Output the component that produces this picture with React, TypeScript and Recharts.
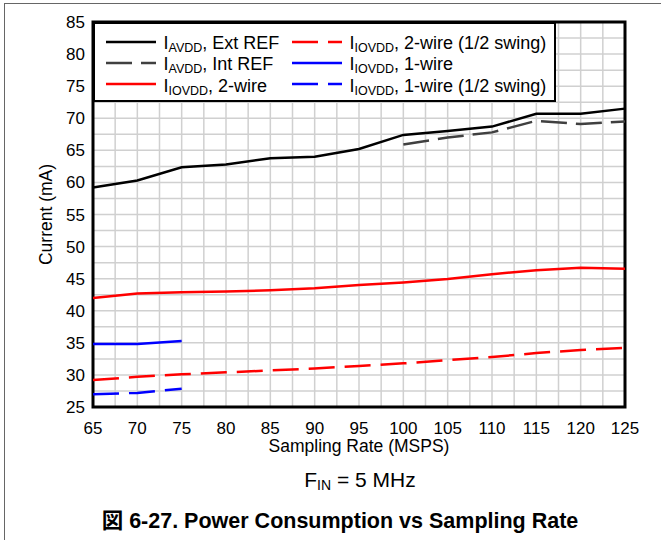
import React from "react"
import {
  LineChart,
  Line,
  XAxis,
  YAxis,
  CartesianGrid,
  Legend,
  ReferenceArea,
} from "recharts"

const font = '"Liberation Sans", Arial, sans-serif'

// sampling rate (MSPS)
const rates = [65, 70, 75, 80, 85, 90, 95, 100, 105, 110, 115, 120, 125]

// current (mA)
const avddExtRef = [59.2, 60.3, 62.35, 62.8, 63.75, 64.0, 65.2, 67.4, 68.0, 68.7, 70.7, 70.7, 71.5]
const avddIntRef = [null, null, null, null, null, null, null, 65.9, 67.0, 67.8, 69.6, 69.1, 69.5]
const iovdd2Wire = [42.0, 42.7, 42.9, 43.0, 43.2, 43.5, 44.0, 44.4, 44.95, 45.7, 46.3, 46.7, 46.55]
const iovdd2WireHalf = [29.2, 29.7, 30.1, 30.4, 30.7, 31.0, 31.4, 31.8, 32.3, 32.8, 33.4, 33.9, 34.2]
const iovdd1Wire = [34.8, 34.8, 35.3, null, null, null, null, null, null, null, null, null, null]
const iovdd1WireHalf = [27.0, 27.2, 27.85, null, null, null, null, null, null, null, null, null, null]

// grid every 2.5, labels every 5
const xGrid = [65, 67.5, 70, 72.5, 75, 77.5, 80, 82.5, 85, 87.5, 90, 92.5, 95, 97.5, 100, 102.5, 105, 107.5, 110, 112.5, 115, 117.5, 120, 122.5, 125]
const yGrid = [25, 27.5, 30, 32.5, 35, 37.5, 40, 42.5, 45, 47.5, 50, 52.5, 55, 57.5, 60, 62.5, 65, 67.5, 70, 72.5, 75, 77.5, 80, 82.5, 85]

const series = [
  { key: "avddExt", values: avddExtRef, main: "I", sub: "AVDD", rest: ", Ext REF", color: "#000000", dash: undefined },
  { key: "avddInt", values: avddIntRef, main: "I", sub: "AVDD", rest: ", Int REF", color: "#404040", dash: "26 9" },
  { key: "io2", values: iovdd2Wire, main: "I", sub: "IOVDD", rest: ", 2-wire", color: "#ff0000", dash: undefined },
  { key: "io2half", values: iovdd2WireHalf, main: "I", sub: "IOVDD", rest: ", 2-wire (1/2 swing)", color: "#ff0000", dash: "26 10" },
  { key: "io1", values: iovdd1Wire, main: "I", sub: "IOVDD", rest: ", 1-wire", color: "#0000ff", dash: undefined },
  { key: "io1half", values: iovdd1WireHalf, main: "I", sub: "IOVDD", rest: ", 1-wire (1/2 swing)", color: "#0000ff", dash: "26 10" },
]

const data = rates.map((rate, i) => {
  const row: Record<string, number | null> = { rate }
  series.forEach((s) => {
    row[s.key] = s.values[i]
  })
  return row
})

function ChartLegend() {
  return (
    <div
      style={{
        width: 463,
        height: 80,
        border: "2.5px solid #000",
        boxSizing: "border-box",
        background: "#fff",
        position: "relative",
        fontFamily: font,
        color: "#000",
      }}
    >
      {series.map((s, i) => {
        const col = i < 3 ? 0 : 1
        const row = i % 3
        const lineX = col === 0 ? 10.5 : 196.5
        const textX = col === 0 ? 68.5 : 254.5
        const lineY = 17.8 + row * 21.3
        return (
          <React.Fragment key={s.key}>
            <svg
              width={50}
              height={4}
              style={{ position: "absolute", left: lineX, top: lineY - 2 }}
            >
              <line x1={0} y1={2} x2={50} y2={2} stroke={s.color} strokeWidth={2.5} strokeDasharray={s.dash} />
            </svg>
            <div
              style={{
                position: "absolute",
                left: textX,
                top: lineY - 7.7,
                fontSize: 18,
                lineHeight: "18px",
                whiteSpace: "nowrap",
              }}
            >
              {s.main}
              <span style={{ fontSize: 12.5, position: "relative", top: 3 }}>{s.sub}</span>
              {s.rest}
            </div>
          </React.Fragment>
        )
      })}
    </div>
  )
}

export default function App() {
  return (
    <div
      style={{
        position: "absolute",
        left: 0,
        top: 0,
        width: 661,
        height: 540,
        background: "#fff",
        fontFamily: font,
        overflow: "hidden",
      }}
    >
      <div
        style={{
          position: "absolute",
          left: 3.5,
          top: 2.5,
          width: 700,
          height: 600,
          borderLeft: "1.5px solid #666",
          borderTop: "1.5px solid #666",
        }}
      />

      <LineChart
        width={661}
        height={540}
        data={data}
        margin={{ top: 22, right: 36, bottom: 0, left: 0 }}
        style={{ position: "absolute", left: 0, top: 0 }}
      >
        <CartesianGrid stroke="#d0d0d0" strokeWidth={1.5} />

        <XAxis
          dataKey="rate"
          type="number"
          domain={[65, 125]}
          ticks={xGrid}
          interval={0}
          height={133}
          axisLine={false}
          tickLine={false}
          tickMargin={9}
          tickFormatter={(v: number) => (v % 5 === 0 ? String(v) : "")}
          tick={{ fontSize: 17, fill: "#000", fontFamily: font }}
          label={{
            value: "Sampling Rate (MSPS)",
            position: "insideTop",
            offset: 33,
            style: { fontSize: 17.5, fill: "#000", fontFamily: font },
          }}
        />

        <YAxis
          type="number"
          domain={[25, 85]}
          ticks={yGrid}
          interval={0}
          width={93}
          axisLine={false}
          tickLine={false}
          tickFormatter={(v: number) => (v % 5 === 0 ? String(v) : "")}
          tick={{ fontSize: 17, fill: "#000", fontFamily: font }}
          label={{
            value: "Current (mA)",
            angle: -90,
            position: "center",
            dx: -1,
            style: { fontSize: 17.5, fill: "#000", fontFamily: font },
          }}
        />

        {series.map((s) => (
          <Line
            key={s.key}
            dataKey={s.key}
            type="linear"
            stroke={s.color}
            strokeWidth={2.5}
            strokeDasharray={s.dash}
            dot={false}
            activeDot={false}
            connectNulls={false}
            isAnimationActive={false}
          />
        ))}

        <ReferenceArea
          x1={65}
          x2={125}
          y1={25}
          y2={85}
          fill="none"
          fillOpacity={0}
          stroke="#000"
          strokeWidth={3}
          ifOverflow="visible"
        />

        <Legend
          layout="vertical"
          align="center"
          verticalAlign="middle"
          content={() => <ChartLegend />}
          wrapperStyle={{ left: 93, top: 22, width: 463, height: 80 }}
        />
      </LineChart>

      <div
        style={{
          position: "absolute",
          left: 0,
          width: 720,
          top: 469.2,
          textAlign: "center",
          fontSize: 21,
          lineHeight: "21px",
          color: "#000",
        }}
      >
        F<span style={{ fontSize: 14, position: "relative", top: 3 }}>IN</span> = 5 MHz
      </div>

      <div
        style={{
          position: "absolute",
          left: 0,
          width: 680,
          top: 510.8,
          textAlign: "center",
          fontSize: 21.5,
          lineHeight: "21.5px",
          fontWeight: "bold",
          color: "#000",
          fontFamily: '"Liberation Sans", Arial, "Noto Sans CJK JP", sans-serif',
        }}
      >
        図 6-27. Power Consumption vs Sampling Rate
      </div>
    </div>
  )
}
